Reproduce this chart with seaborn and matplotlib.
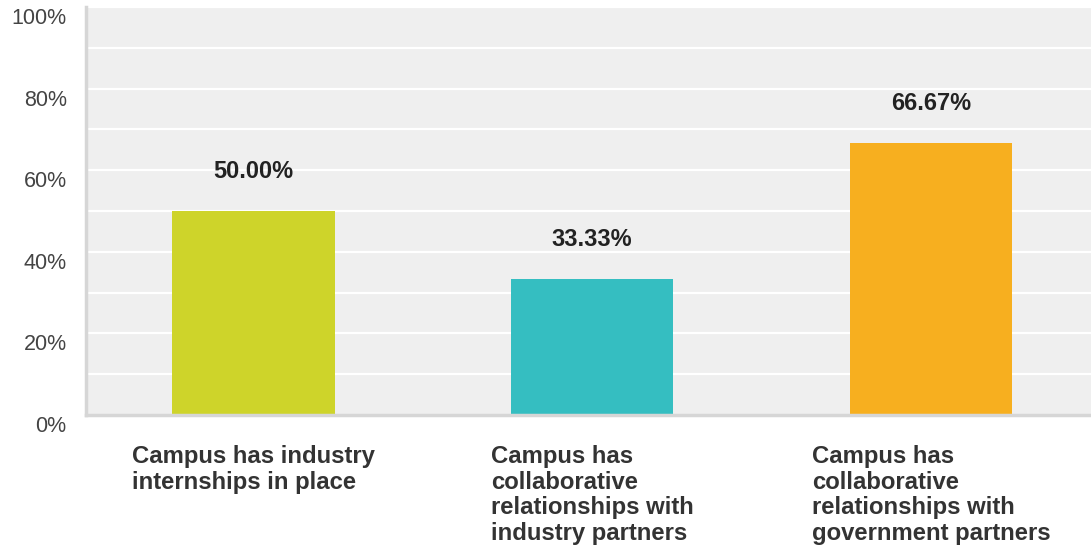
import matplotlib
matplotlib.use("Agg")
import matplotlib.pyplot as plt
import matplotlib.transforms as mtransforms
import seaborn as sns
import pandas as pd

# data
categories = ["Campus has industry\ninternships in place",
              "Campus has\ncollaborative\nrelationships with\nindustry partners",
              "Campus has\ncollaborative\nrelationships with\ngovernment partners"]
values = [50.00, 33.33, 66.67]
bar_colors = ["#CED42A", "#35BEC1", "#F7AF1F"]
y_ticks = [0, 20, 40, 60, 80, 100]

df = pd.DataFrame({"category": categories, "value": values})

sns.set_style("white")
plt.rcParams["font.family"] = ["Liberation Sans", "DejaVu Sans"]

fig = plt.figure(figsize=(10.91, 5.46), dpi=100)
ax = fig.add_axes([0.079, 0.240, 0.921, 0.747])
ax.set_facecolor("#EFEFEF")

sns.barplot(data=df, x="category", y="value", hue="category",
            palette=bar_colors, width=0.48, legend=False, ax=ax,
            saturation=1, linewidth=0)

# white grid every 10%
for g in range(10, 101, 10):
    ax.axhline(g, color="white", lw=1.6, zorder=0.5)

ax.set_ylim(0, 100)
ax.set_xlim(-0.493, 2.472)
ax.set_yticks(y_ticks)
ax.set_yticklabels([f"{t}%" for t in y_ticks], fontsize=15.5, color="#444444")
ax.tick_params(axis="y", length=0, pad=14)
ax.tick_params(axis="x", length=0, pad=21.5)

# y labels sit a bit below their gridline
shift = mtransforms.ScaledTranslation(0, -9 / 100, fig.dpi_scale_trans)
for lbl in ax.get_yticklabels():
    lbl.set_transform(lbl.get_transform() + shift)

for lbl in ax.get_xticklabels():
    lbl.set_fontsize(17.2)
    lbl.set_fontweight("bold")
    lbl.set_color("#333333")
    lbl.set_verticalalignment("top")
    lbl.set_multialignment("left")
    lbl.set_linespacing(1.15)
ax.set_xlabel("")
ax.set_ylabel("")

for s in ["top", "right"]:
    ax.spines[s].set_visible(False)
for s in ["left", "bottom"]:
    ax.spines[s].set_color("#D6D6D6")
    ax.spines[s].set_linewidth(2.5)

for i, v in enumerate(values):
    ax.text(i, v + 9.8, f"{v:.2f}%", ha="center", va="center",
            fontsize=17, fontweight="bold", color="#222222")

fig.savefig("out.png", dpi=100)
